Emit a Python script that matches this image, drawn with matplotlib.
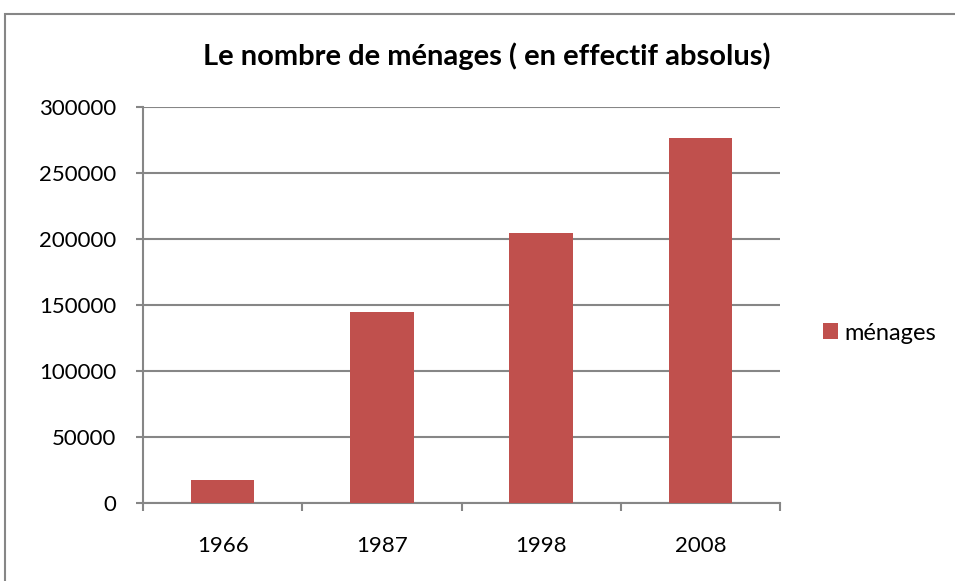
import matplotlib
matplotlib.use("Agg")
import matplotlib.pyplot as plt
from matplotlib.patches import Rectangle
import numpy as np

# data
annees = ["1966", "1987", "1998", "2008"]
menages = [17200, 144400, 204300, 276800]
yticks = [0, 50000, 100000, 150000, 200000, 250000, 300000]

bar_color = "#C0504D"
grid_color = "#868686"

plt.rcParams['font.family'] = ['Lato', 'DejaVu Sans']

fig = plt.figure(figsize=(9.55, 5.81), dpi=100)
ax = fig.add_axes([143/955, 1 - 503/581, 637/955, 396/581])

x = np.arange(len(annees))
ax.bar(x, menages, width=0.4, color=bar_color, label="ménages", zorder=3)

ax.set_xlim(-0.5, len(annees) - 0.5)
ax.set_ylim(0, 300000)
ax.set_yticks(yticks)
ax.set_yticklabels([str(v) for v in yticks], fontsize=16)
ax.set_xticks(x)
ax.set_xticklabels(annees, fontsize=16)
ax.tick_params(axis='x', length=0, pad=24)
ax.tick_params(axis='y', length=5, width=1.5, color=grid_color, pad=14)

# category boundary ticks on the x axis
ax.set_xticks(np.arange(len(annees) + 1) - 0.5, minor=True)
ax.tick_params(axis='x', which='minor', length=6, width=1.5, color=grid_color)

ax.grid(axis='y', color=grid_color, linewidth=1.5, zorder=0)
for side in ['top', 'right']:
    ax.spines[side].set_visible(False)
for side in ['left', 'bottom']:
    ax.spines[side].set_color(grid_color)
    ax.spines[side].set_linewidth(1.5)

fig.text(487/955, 1 - 65/581, "Le nombre de ménages ( en effectif absolus)",
         fontsize=21, fontweight='bold', ha='center', va='baseline')

ax.legend(loc='center left', bbox_to_anchor=(823/955, 1 - 333/581),
          bbox_transform=fig.transFigure, frameon=False, fontsize=17,
          borderpad=0, borderaxespad=0,
          handlelength=0.64, handleheight=0.64, handletextpad=0.25)

# chart area border
fig.add_artist(Rectangle((5/955, -0.1), 1.2, 0.1 + (581 - 14)/581,
                         transform=fig.transFigure, fill=False,
                         edgecolor=grid_color, linewidth=1.5))

fig.savefig("out.png", dpi=100)
